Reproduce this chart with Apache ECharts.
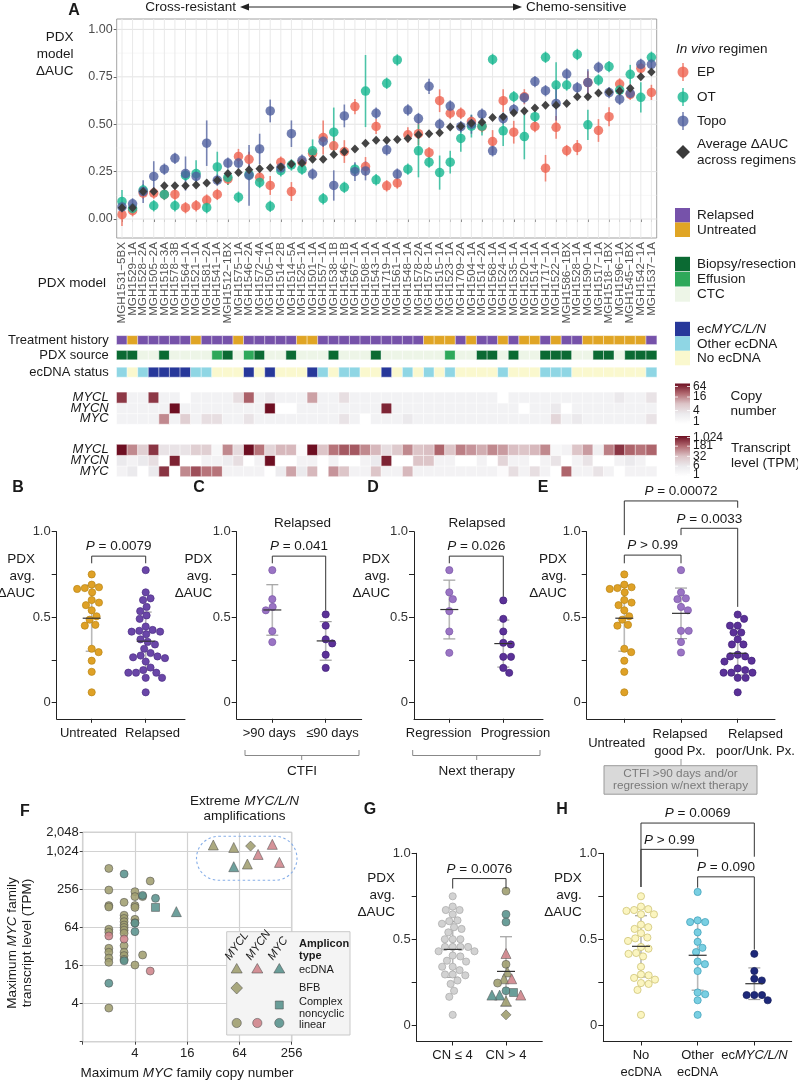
<!DOCTYPE html>
<html><head><meta charset="utf-8">
<script src="https://cdn.jsdelivr.net/npm/echarts@6/dist/echarts.min.js"></script>
<style>html,body{margin:0;padding:0;background:#fff}#c{width:798px;height:1081px}</style>
</head><body><div id="c"></div>
<script>
const FF = '"Liberation Sans", Arial, Helvetica, sans-serif';
// ================= DATA =================
const models = ['MGH1531−5BX','MGH1529−1A','MGH1528−2A','MGH1505−2A','MGH1518−3A','MGH1578−3B','MGH1564−1A','MGH1521−1A','MGH1581−2A','MGH1541−1A','MGH1512−1BX','MGH1575−1A','MGH1546−2A','MGH1572−4A','MGH1505−1A','MGH1514−2B','MGH1514−5A','MGH1525−1A','MGH1501−1A','MGH1557−1A','MGH1538−1B','MGH1546−1B','MGH1567−1A','MGH1508−1A','MGH1543−1A','MGH1719−1A','MGH1561−1A','MGH1548−1A','MGH1578−2A','MGH1578−1A','MGH1515−1A','MGH1523−1A','MGH1709−2A','MGH1504−1A','MGH1514−2A','MGH1568−1A','MGH1524−1A','MGH1535−1A','MGH1520−1A','MGH1514−1A','MGH1717−1A','MGH1522−1A','MGH1586−1BX','MGH1528−1A','MGH1590−1A','MGH1517−1A','MGH1518−1BX','MGH1596−1A','MGH1545−1BX','MGH1542−1A','MGH1537−1A'];
const epAUC = [0.023,0.044,0.137,0.137,0.13,0.13,0.06,0.07,0.10,0.13, 0.21,0.33,0.315,0.22,0.177,0.30,0.145,0.30,0.345,0.43, 0.386,0.356,0.593,0.277,0.488,0.175,0.19,0.444,0.45,0.35, 0.624,0.558,0.558,0.514,0.487,0.409,0.624,0.458,0.645,0.488, 0.268,0.484,0.361,0.377,0.72,0.467,0.54,0.712,0.658,0.795, 0.668];
const otAUC = [0.093,0.056,0.153,0.07,0.13,0.07,0.23,0.24,0.06,0.275, 0.22,0.115,0.235,0.193,0.067,0.255,0.285,0.263,0.36,0.107, 0.458,0.167,0.263,0.675,0.207,0.716,0.839,0.263,0.36,0.30, 0.245,0.30,0.425,0.49,0.49,0.842,0.465,0.645,0.435,0.54, 0.853,0.707,0.707,0.868,0.497,0.733,0.804,0.68,0.763,0.642, 0.853];
const topoAUC = [0.064,0.08,0.145,0.225,0.263,0.32,0.24,0.225,0.40,0.205, 0.295,0.295,0.23,0.37,0.57,0.27,0.45,0.31,0.237,0.41, 0.177,0.544,0.25,0.254,0.558,0.365,0.237,0.575,0.53,0.70, 0.50,0.596,0.487,0.50,0.553,0.36,0.53,0.578,0.64,0.725, 0.677,0.61,0.765,0.693,0.72,0.80,0.667,0.632,0.663,0.816, 0.816];
const epErr = [.06,.03,.03,.03,.03,.03,.03,.03,.03,.03, .03,.04,.04,.04,.05,.03,.05,.03,.03,.09, .05,.06,.04,.05,.04,.03,.03,.04,.06,.03, .06,.03,.03,.03,.03,.06,.06,.06,.04,.03, .07,.06,.03,.04,.06,.06,.05,.03,.03,.03, .04];
const otErr = [.06,.03,.03,.03,.03,.03,.03,.07,.03,.08, .04,.03,.03,.03,.03,.03,.03,.03,.06,.03, .13,.03,.03,.19,.03,.03,.03,.03,.14,.03, .09,.06,.07,.06,.05,.03,.08,.03,.12,.03, .03,.12,.03,.03,.08,.03,.03,.03,.05,.08, .03];
const topoErr = [.03,.03,.06,.08,.03,.03,.09,.03,.12,.03, .03,.03,.16,.08,.06,.03,.07,.03,.03,.03, .08,.06,.05,.05,.03,.03,.03,.03,.03,.04, .03,.03,.03,.05,.03,.03,.03,.03,.03,.03, .03,.09,.03,.03,.07,.03,.03,.03,.03,.03, .03];
const avgAUC = [0.06,0.06,0.145,0.145,0.175,0.175,0.175,0.18,0.19,0.205, 0.24,0.245,0.26,0.265,0.27,0.275,0.29,0.295,0.315,0.315, 0.34,0.355,0.37,0.40,0.415,0.415,0.42,0.425,0.445,0.45, 0.455,0.485,0.49,0.505,0.51,0.535,0.54,0.56,0.57,0.585, 0.60,0.60,0.61,0.645,0.645,0.665,0.67,0.675,0.69,0.75, 0.775];
// R = Relapsed, U = Untreated
const treatment = ['R','U','R','R','R','R','R','U','R','R', 'R','U','R','R','R','R','R','U','U','R', 'R','R','R','R','R','R','R','R','R','U', 'U','U','R','U','R','R','U','R','U','U', 'R','U','R','R','U','U','U','U','U','U','R'];
// B = Biopsy/resection, E = Effusion, C = CTC
const pdxSource = ['B','B','C','C','B','C','C','C','C','E', 'B','C','E','B','C','C','B','C','C','C', 'B','C','C','C','B','C','C','C','C','C', 'C','E','C','C','B','B','C','B','C','C', 'B','B','B','C','C','B','B','C','B','B','B'];
// N = ecMYC/L/N, O = Other ecDNA, X = No ecDNA
const ecStatus = ['O','X','O','N','N','N','N','O','O','X', 'X','X','N','X','N','X','X','X','N','O', 'X','O','O','X','X','N','X','O','X','O', 'X','O','X','X','X','X','O','X','X','X', 'O','O','O','X','X','X','X','X','X','X','O'];
const cnMYCL = [40,2,2,40,2,2,1,2,2,2, 2,4,25,2,3,2,2,2,12,2, 2,4,2,2,2,2,2,2,2,2, 2,2,2,2,2,2,1,2,2,2, 2,2,2,2,2,2,2,3,2,2,3.5];
const cnMYCN = [2,2,2,2,2,64,2,2,2,2, 2,2,2,2,64,1,1,2,2,2, 2,2,2,2,2,50,2,2,2,2, 2,2,2,2,2,2,2,2,1,2, 2,3,1,2,2,2,2,2,2,2,2];
const cnMYC  = [2,2,2,2,16,2,6,2,4,4, 2,2,3.5,2,2,2,2,2,2,2, 2,3.5,2,1,2,2,2,3,2,2, 2,2,2,2,2,2,2,2,2,2, 2,5,2,3,2,2,2,2,2,2,3.5];
const tpmMYCL = [1024,100,20,500,8,8,8,20,20,2, 100,12,1024,150,15,40,40,1.5,1024,30, 150,250,250,100,40,10,25,100,30,35, 200,30,120,80,50,100,70,35,30,40, 100,2,3,30,70,4,120,500,200,150,200];
const tpmMYCN = [6,3,6,10,1,700,1,1,3,3, 5,10,1,3,1024,1,1,3,3,1, 3,1,1,3,6,700,1,1,30,30, 3,3,1,1,3,1,15,3,3,1, 3,8,1,3,8,1,1,3,6,3,1];
const tpmMYC  = [3,6,1,6,500,1,100,300,150,150, 3,3,3,3,1,5,60,6,40,1, 80,30,3,3,30,3,3,40,3,3, 3,3,3,3,3,3,1.5,10,3,10, 3,1,200,3,3,8,3,1,3,3,3];
const yTicksA = [0, 0.25, 0.5, 0.75, 1.0];
const yGridMinorA = [0.125, 0.375, 0.625, 0.875];
const cnLegendTicks = [64, 16, 4, 1];
const tpmLegendTicks = [1024, 181, 32, 6, 1];

// Panels C, D, E (relapsed subsets)
const ctfiLong  = [0.775, 0.605, 0.56, 0.54, 0.418, 0.354];
const ctfiShort = [0.516, 0.45, 0.37, 0.346, 0.28, 0.203];
const nextRegression  = [0.775, 0.645, 0.605, 0.535, 0.416, 0.291];
const nextProgression = [0.598, 0.49, 0.416, 0.34, 0.35, 0.268, 0.268, 0.203, 0.174];
const relapsedGoodPx = [0.775, 0.645, 0.605, 0.61, 0.54, 0.56, 0.42, 0.42, 0.354, 0.293];
const relapsedPoorPx = [0.515, 0.49, 0.45, 0.45, 0.41, 0.41, 0.37, 0.34, 0.34, 0.28, 0.27, 0.27, 0.245, 0.24, 0.20, 0.19, 0.175, 0.175, 0.175, 0.145, 0.145, 0.06];

// Panel F
const fCN  = [32,55,86,153,105,185,55,79,12,6.9, 2,2,2,2,2,2,2,2,2,2,2,2,2, 3,3,3,3,3,3,3,3,3,3,3,3,3,3,3, 4,4,4,4,4,4,4,4,4, 4.9,4.9,4.9, 6,6, 6.9];
const fTPM = [1290,1180,1240,1320,915,685,585,645,114,133, 550,250,142,135,60,54,30,26,21,18,3.4,8.4,47, 160,100,89,79,70,64,58,52,33,26,23,20,449,19,42, 236,197,142,133,86,76,16.3,75,55, 197,23.5,206, 347,13.1, 185];
const fGene = ['MYCL','MYCL','MYCL','MYCN','MYCN','MYCN','MYC','MYCL','MYC','MYC',
  'MYCL','MYCL','MYCL','MYCL','MYCL','MYCL','MYCL','MYCL','MYCL','MYCL','MYCL','MYC','MYCN',
  'MYCL','MYCL','MYCL','MYCL','MYCL','MYCL','MYCL','MYCL','MYCL','MYCL','MYCL','MYCL','MYC','MYC','MYCN',
  'MYCL','MYCL','MYCL','MYCL','MYCL','MYCL','MYCL','MYC','MYC',
  'MYCL','MYCL','MYC', 'MYCL','MYCN', 'MYC'];
const fType = ['ecDNA','ecDNA','BFB','ecDNA','ecDNA','ecDNA','ecDNA','ecDNA','ecDNA','complex',
  'linear','linear','linear','linear','linear','linear','linear','linear','linear','linear','linear','linear','linear',
  'linear','linear','linear','linear','linear','linear','linear','linear','linear','linear','linear','linear','linear','linear','linear',
  'linear','linear','linear','linear','linear','linear','linear','linear','linear',
  'linear','linear','linear','linear','linear','linear'];
const fXTicks = [2, 4, 6, 8];
const fYTicks = [2, 4, 6, 8, 10, 11];

// Panel G
const gLowAUC = [0.75,0.69,0.67,0.67,0.645,0.61,0.605,0.59,0.57,0.56,0.54,0.50,0.50,0.50,0.455,0.455,0.455,0.455,0.43,0.43,0.405,0.40,0.375,0.37,0.34,0.34,0.32,0.295,0.295,0.29,0.26,0.24,0.20,0.165,0.06];
const gHighAUC = [0.78,0.645,0.60,0.417,0.354,0.31,0.27,0.27,0.245,0.20,0.175,0.19,0.175,0.175,0.14,0.06];
const gHighGene = ['MYCL','MYC','MYC','MYCN','MYCL','MYCL','MYCL','MYCN','MYCL','MYC','MYC','MYC','MYC','MYCN','MYCL','MYCL'];
const gHighType = ['linear','linear','linear','ecDNA','linear','ecDNA','ecDNA','ecDNA','linear','linear','ecDNA','complex','ecDNA','ecDNA','ecDNA','BFB'];

// P values
const pB = ['P = 0.0079'];
const pC = ['P = 0.041'];
const pD = ['P = 0.026'];
const pE = ['P > 0.99', 'P = 0.0033', 'P = 0.00072'];
const pG = ['P = 0.0076'];
const pH = ['P = 0.0069', 'P > 0.99', 'P = 0.090'];

// ================= STYLE =================
const COL = {EP:'#EE6350', OT:'#17B690', Topo:'#4F5F9E', avg:'#3a3a3a',
  relapsed:'#7652AA', untreated:'#E0A525', biopsy:'#0B6A33', effusion:'#2EA85A', ctc:'#EDF5E7',
  ecMYC:'#27389A', otherEc:'#8FD6E4', noEc:'#FAF8CE'};
const GENE = {MYCL:'#A09E70', MYCN:'#CF848B', MYC:'#5A938E'};
const SYM = {ecDNA:'triangle', BFB:'diamond', complex:'rect', linear:'circle'};
const SYMSZ = {ecDNA:10, BFB:10, complex:8, linear:8};
const HEAT = ['#ffffff','#ecebee','#dcc4c7','#b26a71','#6e0f22'];

const grids=[], xAxes=[], yAxes=[], series=[], visualMaps=[], graphics=[];
const RG = (fs, c) => ({i:{fontStyle:'italic', fontSize:fs, fontFamily:FF, fill:c||'#1a1a1a'}, b:{fontWeight:'bold', fontSize:fs, fontFamily:FF, fill:c||'#1a1a1a'}});
function T(x, y, text, o) {
  o = o || {}; const fs = o.fs || 13;
  graphics.push({type:'text', x, y, rotation:o.rot||0, z:100, silent:true,
    style:{text, fontFamily:FF, fontSize:fs, fill:o.c||'#1a1a1a', align:o.al||'left', verticalAlign:o.va||'middle',
      fontStyle:o.it?'italic':'normal', fontWeight:o.b?'bold':'normal', lineHeight:o.lh||fs*1.2, rich:RG(fs, o.c)}});
}
function G(el) { el.z = el.z || 90; el.silent = true; graphics.push(el); }
const pLab = s => s.replace(/^P/, '{i|P}');
const mean = a => a.reduce((s,v)=>s+v,0)/a.length;
const sd = a => { const m = mean(a); return Math.sqrt(a.reduce((s,v)=>s+(v-m)*(v-m),0)/(a.length-1)); };

// ================= PANEL A =================
const gA = grids.length;
grids.push({left:116.7, top:19, width:540, height:219, show:true, borderColor:'#8c8c8c', borderWidth:0.8, backgroundColor:'#fff'});
xAxes.push({gridIndex:gA, type:'category', data:models, boundaryGap:true, axisLine:{show:false},
  axisTick:{show:true, alignWithLabel:true, length:3, lineStyle:{color:'#666'}},
  axisLabel:{rotate:90, interval:0, fontSize:11.6, color:'#555', margin:4, fontFamily:FF}, splitLine:{show:false}});
yAxes.push({gridIndex:gA, type:'value', min:-0.1, max:1.055, axisLine:{show:false},
  axisTick:{show:true, customValues:yTicksA, length:3, lineStyle:{color:'#666'}},
  axisLabel:{customValues:yTicksA, formatter:v=>v.toFixed(2), fontSize:12.5, color:'#4d4d4d', margin:4, fontFamily:FF}, splitLine:{show:false}});
// gridlines
series.push({type:'custom', xAxisIndex:gA, yAxisIndex:gA, silent:true, z:1,
  data: yTicksA.map(v=>[0,v,1]).concat(yGridMinorA.map(v=>[0,v,0])),
  renderItem:(p,api)=>{ const cs=p.coordSys; const y=api.coord([0,api.value(1)])[1]; const maj=api.value(2);
    return {type:'line', shape:{x1:cs.x,y1:y,x2:cs.x+cs.width,y2:y}, style:{stroke:maj?'#e4e4e4':'#f1f1f1', lineWidth:maj?1:0.6}}; }});
series.push({type:'custom', xAxisIndex:gA, yAxisIndex:gA, silent:true, z:1,
  data: models.map((m,i)=>[i,0]),
  renderItem:(p,api)=>{ const cs=p.coordSys; const x=api.coord([api.value(0),0])[0];
    return {type:'line', shape:{x1:x,y1:cs.y,x2:x,y2:cs.y+cs.height}, style:{stroke:'#e9e9e9', lineWidth:1}}; }});
[[epAUC, epErr, COL.EP],[otAUC, otErr, COL.OT],[topoAUC, topoErr, COL.Topo]].forEach(([vals, errs, c])=>{
  series.push({type:'custom', xAxisIndex:gA, yAxisIndex:gA, silent:true, z:2,
    data: vals.map((v,i)=>[i, v, errs[i]]),
    renderItem:(p,api)=>{ const i=api.value(0), v=api.value(1), e=api.value(2);
      const a=api.coord([i,v-e]), b=api.coord([i,v+e]);
      return {type:'line', shape:{x1:a[0],y1:a[1],x2:b[0],y2:b[1]}, style:{stroke:c, lineWidth:1.6, opacity:0.75}}; }});
  series.push({type:'scatter', xAxisIndex:gA, yAxisIndex:gA, silent:true, z:3, symbolSize:9.5,
    data: vals.map((v,i)=>[i,v]), itemStyle:{color:c, opacity:0.8}});
});
series.push({type:'scatter', xAxisIndex:gA, yAxisIndex:gA, silent:true, z:4, symbol:'diamond', symbolSize:[8.5,9],
  data: avgAUC.map((v,i)=>[i,v]), itemStyle:{color:COL.avg, opacity:0.95}});

// tracks
function track(top, h, labels, data, vm, italic) {
  const gi = grids.length;
  grids.push({left:116.7, top, width:540, height:h});
  xAxes.push({gridIndex:gi, type:'category', data:models, show:false});
  yAxes.push({gridIndex:gi, type:'category', data:labels, axisLine:{show:false}, axisTick:{show:false},
    axisLabel:{interval:0, hideOverlap:false, fontSize:13, lineHeight:11, color:'#1a1a1a', margin:8, fontFamily:FF, fontStyle:italic?'italic':'normal'}});
  const si = series.length;
  series.push({type:'heatmap', xAxisIndex:gi, yAxisIndex:gi, data, silent:true, itemStyle:{borderColor:'rgba(255,255,255,0.9)', borderWidth:0.6}});
  visualMaps.push(Object.assign({show:false, seriesIndex:si, dimension:2}, vm));
}
track(335.8, 8.6, ['Treatment history'], treatment.map((t,i)=>[i,0,t==='R'?0:1]),
  {type:'piecewise', pieces:[{value:0, color:COL.relapsed},{value:1, color:COL.untreated}]});
track(350.6, 9, ['PDX source'], pdxSource.map((t,i)=>[i,0,{B:0,E:1,C:2}[t]]),
  {type:'piecewise', pieces:[{value:0, color:COL.biopsy},{value:1, color:COL.effusion},{value:2, color:COL.ctc}]});
track(367.4, 9.6, ['ecDNA status'], ecStatus.map((t,i)=>[i,0,{N:0,O:1,X:2}[t]]),
  {type:'piecewise', pieces:[{value:0, color:COL.ecMYC},{value:1, color:COL.otherEc},{value:2, color:COL.noEc}]});
const geneRows = ['MYC','MYCN','MYCL'];
const cnRows = [cnMYC, cnMYCN, cnMYCL], tpmRows = [tpmMYC, tpmMYCN, tpmMYCL];
track(392.3, 31.7, geneRows, [].concat(...cnRows.map((r,k)=>r.map((v,i)=>[i,k,Math.log2(v)]))),
  {type:'continuous', min:0, max:6, inRange:{color:HEAT}}, true);
track(444.5, 32, geneRows, [].concat(...tpmRows.map((r,k)=>r.map((v,i)=>[i,k,Math.log2(v)]))),
  {type:'continuous', min:0, max:10, inRange:{color:HEAT}}, true);

// A annotations
T(74, 11, 'A', {b:true, fs:16, al:'center'});
T(73.5, 37.7, 'PDX', {al:'right', fs:13.5}); T(73.5, 54, 'model', {al:'right', fs:13.5}); T(73.5, 71, 'ΔAUC', {al:'right', fs:13.5});
T(106, 283, 'PDX model', {al:'right', fs:13.5});
T(236, 7, 'Cross-resistant', {al:'right', fs:13.5}); T(526, 7, 'Chemo-sensitive', {fs:13.5});
G({type:'line', shape:{x1:246, y1:7, x2:516, y2:7}, style:{stroke:'#222', lineWidth:1}});
G({type:'polygon', shape:{points:[[240,7],[249,3.5],[249,10.5]]}, style:{fill:'#222'}});
G({type:'polygon', shape:{points:[[522,7],[513,3.5],[513,10.5]]}, style:{fill:'#222'}});
// A legend
T(676, 49, '{i|In vivo} regimen', {fs:13.5});
[['EP',COL.EP,72],['OT',COL.OT,97],['Topo',COL.Topo,121]].forEach(([n,c,y])=>{
  G({type:'line', shape:{x1:683, y1:y-9, x2:683, y2:y+9}, style:{stroke:c, lineWidth:1.6, opacity:0.75}});
  G({type:'circle', shape:{cx:683, cy:y, r:5.5}, style:{fill:c, opacity:0.8}});
  T(697, y, n, {fs:13.5});
});
G({type:'polygon', shape:{points:[[683,145],[690,152],[683,159],[676,152]]}, style:{fill:COL.avg}});
T(697, 144, 'Average ΔAUC', {fs:13.5}); T(697, 160, 'across regimens', {fs:13.5});
[['Relapsed',COL.relapsed,208],['Untreated',COL.untreated,222.5],
 ['Biopsy/resection',COL.biopsy,256.8],['Effusion',COL.effusion,272],['CTC',COL.ctc,287.2],
 ['ec{i|MYC/L/N}',COL.ecMYC,321.8],['Other ecDNA',COL.otherEc,336.3],['No ecDNA',COL.noEc,350.8]].forEach(([n,c,y])=>{
  G({type:'rect', shape:{x:675, y, width:15, height:14.5}, style:{fill:c}});
  T(697, y+7.5, n, {fs:13.5});
});
function gradBar(y, h, ticks, toPos) {
  G({type:'rect', shape:{x:675, y, width:15, height:h}, style:{fill:new echarts.graphic.LinearGradient(0,1,0,0,
    HEAT.map((c,k)=>({offset:k/(HEAT.length-1), color:c})))}});
  ticks.forEach(t=>{ const yy = toPos(t); T(693, yy, t.toLocaleString('en-US'), {fs:12, lh:12});
    G({type:'line', shape:{x1:675, y1:yy, x2:678, y2:yy}, style:{stroke:'#fff', lineWidth:0.8}, z:95});
    G({type:'line', shape:{x1:687, y1:yy, x2:690, y2:yy}, style:{stroke:'#fff', lineWidth:0.8}, z:95}); });
}
gradBar(383.5, 40.5, cnLegendTicks, t=>383.5+40.5*(1-Math.log2(t)/6)+ (t===64?3:0) - (t===1?2:0));
T(730.5, 396, 'Copy', {fs:13.5}); T(730.5, 411.5, 'number', {fs:13.5});
gradBar(436, 40.7, tpmLegendTicks, t=>436+40.7*(1-Math.log2(t)/10)+ (t===1024?1.5:0) - (t===1?2:0));
T(731, 448, 'Transcript', {fs:13.5}); T(731, 463.5, 'level (TPM)', {fs:13.5});

// ================= SWARM PANELS =================
const YMIN = -0.095;
const swTicks = [0, 0.25, 0.5, 0.75, 1.0];
const swLabels = [0, 0.5, 1.0];
function swarm(values, pxY, d) {
  const idx = values.map((v,i)=>i).sort((a,b)=>values[b]-values[a]);
  const placed = [], off = new Array(values.length);
  idx.forEach(i=>{
    const y = values[i]*pxY;
    const near = placed.filter(p=>Math.abs(p.y-y) < d);
    const cands = [0];
    near.forEach(p=>{ const dx = Math.sqrt(d*d-(p.y-y)*(p.y-y)); cands.push(p.x+dx, p.x-dx); });
    cands.sort((a,b)=>Math.abs(a)-Math.abs(b) || b-a);
    let x = 0;
    for (const c of cands) { if (near.every(p=>(p.x-c)*(p.x-c)+(p.y-y)*(p.y-y) >= d*d-1e-6)) { x = c; break; } }
    placed.push({x, y}); off[i] = x;
  });
  return off;
}
function swarmPanel(P) {
  const gi = grids.length, n = P.labels.length, sp = P.centers[1]-P.centers[0];
  const xmin = 1-(P.centers[0]-P.left)/sp, xmax = n+(P.right-P.centers[n-1])/sp;
  const cats = P.labels.map((_,k)=>k+1);
  grids.push({left:P.left, top:P.top, width:P.right-P.left, height:P.bottom-P.top});
  xAxes.push({gridIndex:gi, type:'value', min:xmin, max:xmax,
    axisLine:{show:true, onZero:false, lineStyle:{color:'#222', width:1}},
    axisTick:{show:true, customValues:cats, length:4, lineStyle:{color:'#222'}},
    axisLabel:{show:false}, splitLine:{show:false}});
  yAxes.push({gridIndex:gi, type:'value', min:YMIN, max:1,
    axisLine:{show:true, onZero:false, lineStyle:{color:'#222', width:1}},
    axisTick:{show:true, customValues:swTicks, length:5, lineStyle:{color:'#222'}},
    axisLabel:{customValues:swLabels, formatter:v=>v===0?'0':v.toFixed(1), fontSize:13, color:'#333', margin:6, fontFamily:FF,
      showMinLabel:true, showMaxLabel:true},
    splitLine:{show:false}});
  // category labels under the axis (spread apart like the original so they do not collide)
  P.labels.forEach((lab,k)=>T(P.labX[k], P.labY, lab, {al:'center', va:P.va||'top', fs:13, lh:16.5}));
  const pxY = (P.bottom-P.top)/(1-YMIN);
  const stats = [];
  P.groups.forEach((g,k)=>{
    const off = swarm(g.values, pxY, 7.7);
    stats.push([k+1, mean(g.values), sd(g.values)]);
    series.push({type:'scatter', xAxisIndex:gi, yAxisIndex:gi, silent:true, z:3,
      data: g.values.map((v,i)=>{
        const t = g.types ? g.types[i] : 'linear';
        const fill = g.genes ? GENE[g.genes[i]] : g.fill;
        return {value:[k+1+off[i]/sp, v], symbol:SYM[t], symbolSize:g.types?SYMSZ[t]:7.2,
          itemStyle:{color:fill, borderColor:g.genes?'#555':g.stroke, borderWidth:g.genes?0.6:0.7, opacity:g.genes?0.9:1}};
      })});
  });
  series.push({type:'custom', xAxisIndex:gi, yAxisIndex:gi, silent:true, z:2, data:stats,
    renderItem:(p,api)=>{ const x=api.value(0), m=api.value(1), s=api.value(2);
      const a=api.coord([x,m-s]), b=api.coord([x,m+s]);
      return {type:'group', children:[
        {type:'line', shape:{x1:a[0],y1:a[1],x2:b[0],y2:b[1]}, style:{stroke:'#b9b9b9', lineWidth:1.6}},
        {type:'line', shape:{x1:a[0]-6,y1:a[1],x2:a[0]+6,y2:a[1]}, style:{stroke:'#a0a0a0', lineWidth:1.2}},
        {type:'line', shape:{x1:b[0]-6,y1:b[1],x2:b[0]+6,y2:b[1]}, style:{stroke:'#a0a0a0', lineWidth:1.2}}]}; }});
  series.push({type:'custom', xAxisIndex:gi, yAxisIndex:gi, silent:true, z:5, data:stats,
    renderItem:(p,api)=>{ const c=api.coord([api.value(0),api.value(1)]);
      return {type:'line', shape:{x1:c[0]-9,y1:c[1],x2:c[0]+9,y2:c[1]}, style:{stroke:'#333', lineWidth:1.2}}; }});
  series.push({type:'custom', xAxisIndex:gi, yAxisIndex:gi, silent:true, z:6, clip:false,
    data: P.brackets.map(b=>[b.x1, b.y, b.x2, b.f1, b.f2]),
    renderItem:(p,api)=>{ const b = P.brackets[p.dataIndex];
      const a1=api.coord([b.x1,b.f1]), a2=api.coord([b.x1,b.y]), a3=api.coord([b.x2,b.y]), a4=api.coord([b.x2,b.f2]);
      return {type:'group', children:[
        {type:'polyline', shape:{points:[a1,a2,a3,a4]}, style:{stroke:'#333', lineWidth:1, fill:'none'}},
        {type:'text', x:(a2[0]+a3[0])/2, y:a2[1]-2.5, style:{text:pLab(b.label), rich:RG(13.5,'#1a1a1a'),
          fontSize:13.5, fontFamily:FF, fill:'#1a1a1a', align:'center', verticalAlign:'bottom'}}]}; }});
  T(P.ylab[0], P.ylab[1], 'PDX', {al:'right', fs:13.5});
  T(P.ylab[0], P.ylab[1]+17, 'avg.', {al:'right', fs:13.5});
  T(P.ylab[0], P.ylab[1]+34, 'ΔAUC', {al:'right', fs:13.5});
}
const GOLD = {fill:'#DFA126', stroke:'#B98515'};
const PURP = {fill:'#6A46A8', stroke:'#4d2f85'};
const LPURP = {fill:'#9A74C4', stroke:'#7a56a6'};
const DPURP = {fill:'#5B3198', stroke:'#401f78'};
const untreatedAUC = avgAUC.filter((v,i)=>treatment[i]==='U');
const relapsedAUC = avgAUC.filter((v,i)=>treatment[i]==='R');
const noEcAUC = avgAUC.filter((v,i)=>ecStatus[i]==='X');
const otherEcAUC = avgAUC.filter((v,i)=>ecStatus[i]==='O');
const ecMYCAUC = avgAUC.filter((v,i)=>ecStatus[i]==='N');

swarmPanel({left:56.7, right:185, top:531.7, bottom:718.8, centers:[91.7,145.7], labels:['Untreated','Relapsed'], labX:[88.5,152.5], ylab:[35,559], labY:725.5,
  groups:[Object.assign({values:untreatedAUC}, GOLD), Object.assign({values:relapsedAUC}, PURP)],
  brackets:[{x1:1,x2:2,y:0.857,f1:0.815,f2:0.815,label:pB[0]}]});
swarmPanel({left:236.7, right:361.7, top:531.7, bottom:718.8, centers:[272.3,325.7], labels:['>90 days','≤90 days'], labX:[269.3,332.5], ylab:[212.3,559], labY:725.5,
  groups:[Object.assign({values:ctfiLong}, LPURP), Object.assign({values:ctfiShort}, DPURP)],
  brackets:[{x1:1,x2:2,y:0.857,f1:0.815,f2:0.54,label:pC[0]}]});
swarmPanel({left:414, right:543, top:531.7, bottom:718.8, centers:[449.3,503.3], labels:['Regression','Progression'], labX:[438.7,515.5], ylab:[390,559], labY:725.5,
  groups:[Object.assign({values:nextRegression}, LPURP), Object.assign({values:nextProgression}, DPURP)],
  brackets:[{x1:1,x2:2,y:0.857,f1:0.815,f2:0.62,label:pD[0]}]});
swarmPanel({left:586.7, right:775, top:531.7, bottom:718.8, centers:[624.3,681,737.7],
  labels:['Untreated','Relapsed\ngood Px.','Relapsed\npoor/Unk. Px.'], labX:[616.7,680,755.5], ylab:[566.7,559], va:'middle', labY:743,
  groups:[Object.assign({values:untreatedAUC}, GOLD), Object.assign({values:relapsedGoodPx}, LPURP), Object.assign({values:relapsedPoorPx}, DPURP)],
  brackets:[{x1:1,x2:2,y:0.863,f1:0.815,f2:0.815,label:pE[0]},{x1:2,x2:3,y:1.02,f1:0.98,f2:0.56,label:pE[1]},{x1:1,x2:3,y:1.18,f1:0.98,f2:1.14,label:pE[2]}]});
swarmPanel({left:416.7, right:542.3, top:853.3, bottom:1041.5, centers:[452.7,506], labels:['CN ≤ 4','CN > 4'], labX:[452.5,506], ylab:[395,878], labY:1047.5,
  groups:[{values:gLowAUC, fill:'#d2d2d2', stroke:'#a8a8a8'}, {values:gHighAUC, genes:gHighGene, types:gHighType}],
  brackets:[{x1:1,x2:2,y:0.853,f1:0.795,f2:0.795,label:pG[0]}]});
swarmPanel({left:603.3, right:791.7, top:853.3, bottom:1041.5, centers:[641,697.7,754.3],
  labels:['No\necDNA','Other\necDNA','ec{i|MYC/L/N}'], labX:[641,697.5,754.5], ylab:[581.7,878], labY:1047.5,
  groups:[{values:noEcAUC, fill:'#FBF5C0', stroke:'#c9bd6c'}, {values:otherEcAUC, fill:'#79CFE2', stroke:'#3b9cb6'}, {values:ecMYCAUC, fill:'#1E297A', stroke:'#141c5a'}],
  brackets:[{x1:1,x2:3,y:1.176,f1:0.804,f2:0.98,label:pH[0]},{x1:1,x2:2,y:1.023,f1:0.804,f2:0.98,label:pH[1]},{x1:2,x2:3,y:0.863,f1:0.80,f2:0.44,label:pH[2]}]});

// B-E annotations
T(18, 488, 'B', {b:true, fs:16, al:'center'}); T(199, 488, 'C', {b:true, fs:16, al:'center'});
T(373, 488, 'D', {b:true, fs:16, al:'center'}); T(543, 488, 'E', {b:true, fs:16, al:'center'});
T(302.5, 523.5, 'Relapsed', {al:'center', fs:13.5}); T(477, 523.5, 'Relapsed', {al:'center', fs:13.5});
G({type:'polyline', shape:{points:[[245,750],[245,755.5],[359,755.5],[359,750]]}, style:{stroke:'#888', lineWidth:1, fill:'none'}});
G({type:'line', shape:{x1:301.7,y1:755.5,x2:301.7,y2:760}, style:{stroke:'#888', lineWidth:1}});
T(302, 771, 'CTFI', {al:'center', fs:13.5});
G({type:'polyline', shape:{points:[[412.7,750],[412.7,755.5],[540,755.5],[540,750]]}, style:{stroke:'#888', lineWidth:1, fill:'none'}});
G({type:'line', shape:{x1:476.7,y1:755.5,x2:476.7,y2:760}, style:{stroke:'#888', lineWidth:1}});
T(476.7, 771, 'Next therapy', {al:'center', fs:13.5});
G({type:'line', shape:{x1:681,y1:759,x2:681,y2:765.7}, style:{stroke:'#999', lineWidth:1}});
G({type:'rect', shape:{x:604, y:765.7, width:153, height:28.5}, style:{fill:'#d9d9d9', stroke:'#9a9a9a', lineWidth:1}});
T(680.5, 774, 'CTFI >90 days and/or', {al:'center', fs:11.8, c:'#7a7a7a'});
T(680.5, 785.7, 'regression w/next therapy', {al:'center', fs:11.8, c:'#7a7a7a'});

// ================= PANEL F =================
const gF = grids.length;
grids.push({left:82.7, top:832.3, width:209, height:209.4, show:true, borderColor:'#8c8c8c', borderWidth:1});
const fmtPow = v => Math.round(Math.pow(2,v)).toLocaleString('en-US');
xAxes.push({gridIndex:gF, type:'value', min:0, max:8, interval:2, axisLine:{show:false},
  axisTick:{show:true, length:3, lineStyle:{color:'#444'}},
  axisLabel:{customValues:fXTicks, formatter:fmtPow, fontSize:13, color:'#222', margin:5, fontFamily:FF, showMaxLabel:true},
  splitLine:{show:true, lineStyle:{color:'#d2d2d2', width:1.2}}});
yAxes.push({gridIndex:gF, type:'value', min:0, max:11, interval:2, axisLine:{show:false},
  axisTick:{show:true, length:3, lineStyle:{color:'#444'}},
  axisLabel:{customValues:fYTicks, formatter:fmtPow, fontSize:13, color:'#222', margin:4, fontFamily:FF, showMaxLabel:true, hideOverlap:false},
  splitLine:{show:true, lineStyle:{color:'#d2d2d2', width:1.2}}});
series.push({type:'scatter', xAxisIndex:gF, yAxisIndex:gF, silent:true, z:3,
  data: fCN.map((c,i)=>({value:[Math.log2(c), Math.log2(fTPM[i])], symbol:SYM[fType[i]], symbolSize:SYMSZ[fType[i]],
    itemStyle:{color:GENE[fGene[i]], borderColor:'#4a4a4a', borderWidth:0.6, opacity:0.88}}))});
T(25, 812, 'F', {b:true, fs:16, al:'center'});
T(244.5, 801, 'Extreme {i|MYC/L/N}', {al:'center', fs:13.5});
T(244.5, 816.5, 'amplifications', {al:'center', fs:13.5});
G({type:'rect', shape:{x:196.5, y:836.3, width:100.5, height:44, r:22}, style:{fill:'none', stroke:'#86aee8', lineWidth:1.1, lineDash:[2.5,2.5]}, z:60});
T(187, 1073.5, 'Maximum {i|MYC} family copy number', {al:'center', fs:13.5});
T(12, 943, 'Maximum {i|MYC} family', {al:'center', fs:13.5, rot:Math.PI/2});
T(27, 943, 'transcript level (TPM)', {al:'center', fs:13.5, rot:Math.PI/2});
// F legend
G({type:'rect', shape:{x:226.7, y:931.7, width:123.3, height:103.3}, style:{fill:'#f4f4f4', stroke:'#c9c9c9', lineWidth:1}, z:70});
[['MYCL',233],['MYCN',254],['MYC',276]].forEach(([g,x])=>T(x, 963, g, {it:true, fs:11.5, rot:Math.PI*0.3, va:'bottom'}));
T(299, 943.5, 'Amplicon', {b:true, fs:11}); T(299, 956, 'type', {b:true, fs:11});
const legX = [236.7, 257.3, 279.3], legG = ['MYCL','MYCN','MYC'];
const sty = g => ({fill:GENE[g], stroke:'#4a4a4a', lineWidth:0.6, opacity:0.9});
legX.forEach((x,k)=>{
  G({type:'polygon', shape:{points:[[x,963.5],[x-5.5,973],[x+5.5,973]]}, style:sty(legG[k]), z:80});
  G({type:'circle', shape:{cx:x, cy:1023, r:4.6}, style:sty(legG[k]), z:80});
});
G({type:'polygon', shape:{points:[[236.7,982],[242.5,988],[236.7,994],[230.9,988]]}, style:sty('MYCL'), z:80});
G({type:'rect', shape:{x:275.3, y:1001, width:8, height:8}, style:sty('MYC'), z:80});
T(299, 969.5, 'ecDNA', {fs:11}); T(299, 988, 'BFB', {fs:11});
T(299, 1002, 'Complex', {fs:11}); T(299, 1013.5, 'noncyclic', {fs:11}); T(299, 1025, 'linear', {fs:11});

// G/H letters
T(370, 810, 'G', {b:true, fs:16, al:'center'}); T(562, 810, 'H', {b:true, fs:16, al:'center'});

const option = {
  animation:false, backgroundColor:'#fff', textStyle:{fontFamily:FF},
  grid:grids, xAxis:xAxes, yAxis:yAxes, series, visualMap:visualMaps, graphic:graphics
};
const chart = echarts.init(document.getElementById('c'), null, {renderer:'canvas', width:798, height:1081});
chart.setOption(option);
</script></body></html>
